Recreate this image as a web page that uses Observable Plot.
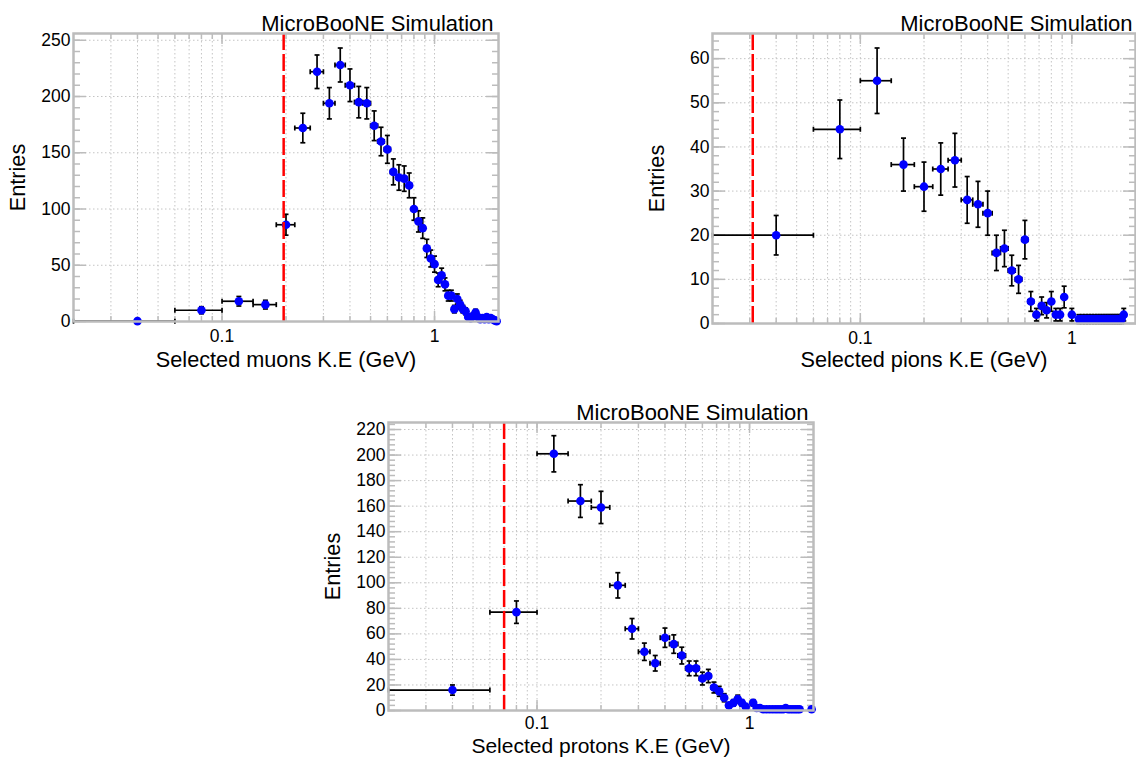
<!DOCTYPE html>
<html>
<head>
<meta charset="utf-8">
<script src="https://cdn.jsdelivr.net/npm/d3@7"></script>
<script src="https://cdn.jsdelivr.net/npm/@observablehq/plot@0.6"></script>
<style>
  html, body { margin: 0; padding: 0; background: #fff; }
  #root { position: relative; width: 1136px; height: 757px; overflow: hidden; }
  .panel { position: absolute; }
</style>
</head>
<body>
<div id="root"></div>
<script>
// ---------------- data ----------------
const binCenters = [0.04,0.08,0.12,0.16,0.2,0.24,0.28,0.32,0.36,0.4,0.44,0.48,0.52,0.56,0.6,0.64,0.68,0.72,0.76,0.8,0.84,0.88,0.92,0.96,1.0,1.04,1.08,1.12,1.16,1.2,1.24,1.28,1.32,1.36,1.4,1.44,1.48,1.52,1.56,1.6,1.64,1.68,1.72,1.76,1.8,1.84,1.88,1.92,1.96];
const binHalfWidth = 0.02;

const muonEntries = [0.3,10,18,15,86,172,222,194,228,210,195,194,174,160,153,133,128,127,121,100,89,83,65,56,51,
  37,41,33,23,23,11,20,15,11,9,4,3,5,8,4,2,3,2,4,2,3,2,1,0.3];
const pionEntries = [20,44,55,36,31,35,37,28,27,25,16,17,12,10,19,5,2,4,3,5,2,2,6,null,2,
  null,1,1,1,1,1,1,1,1,1,1,1,1,1,1,1,1,1,2,null,null,null,null,null];
const protonEntries = [16,77,201,164,159,98,64,46,37,57,52,43,33,33,25,27,18,15,10,4,6,9,6,3,null,
  6,2,2,1,1,1,1,1,1,1,1,2,1,1,1,1,1,1,null,null,null,null,null,1];

const muonCut = 0.195;
const pionCut = 0.031;
const protonCut = 0.07;

const xLabelTicks = [0.1, 1];
const xGridTicks = [0.03,0.04,0.05,0.06,0.07,0.08,0.09,0.1,0.2,0.3,0.4,0.5,0.6,0.7,0.8,0.9,1];

const muonYTicks = [0,50,100,150,200,250];
const pionYTicks = [0,10,20,30,40,50,60];
const protonYTicks = [0,20,40,60,80,100,120,140,160,180,200,220];

const titleText = "MicroBooNE Simulation";
const yTitle = "Entries";
const muonXTitle = "Selected muons K.E (GeV)";
const pionXTitle = "Selected pions K.E (GeV)";
const protonXTitle = "Selected protons K.E (GeV)";

// ---------------- drawing ----------------
const FONT = "'Liberation Sans', Arial, Helvetica, sans-serif";
const AXIS_GREY = "#bcbcbc";

// small end caps for the error bars
const capH = {draw(ctx, size) { const r = Math.sqrt(size / Math.PI); ctx.moveTo(-r, 0); ctx.lineTo(r, 0); }};
const capV = {draw(ctx, size) { const r = Math.sqrt(size / Math.PI); ctx.moveTo(0, -r); ctx.lineTo(0, r); }};

function makePanel(cfg) {
  const data = binCenters
    .map((x, i) => ({x, y: cfg.entries[i]}))
    .filter(d => d.y != null);
  data.forEach(d => { d.err = Math.sqrt(d.y); });
  const minor = d3.range(0, cfg.yMax, cfg.minorStep);
  const blank = () => "";
  const errStyle = {stroke: "#000", strokeWidth: 1.7};
  const capStyle = {stroke: "#000", strokeWidth: 1.7, fill: "none", r: 2.5};
  const plot = Plot.plot({
    width: cfg.width,
    height: cfg.height,
    marginLeft: cfg.ml, marginRight: cfg.mr, marginTop: cfg.mt, marginBottom: cfg.mb,
    style: {fontFamily: FONT, background: "transparent", overflow: "visible", color: "#000"},
    x: {type: "log", domain: [0.02, 2], axis: null},
    y: {domain: [0, cfg.yMax], axis: null},
    marks: [
      Plot.gridX(xGridTicks, {stroke: "#c4c4c4", strokeOpacity: 1, strokeWidth: 1, strokeDasharray: "1.5,2.5"}),
      Plot.gridY(cfg.yTicks, {stroke: "#c4c4c4", strokeOpacity: 1, strokeWidth: 1, strokeDasharray: "1.5,2.5"}),
      // inner ticks (ROOT style)
      Plot.axisY(minor, {anchor: "left", tickSize: 7, dx: 7, tickFormat: blank, stroke: AXIS_GREY, strokeWidth: 1.5, label: null}),
      Plot.axisY(cfg.yTicks, {anchor: "left", tickSize: 13, dx: 13, tickFormat: blank, stroke: AXIS_GREY, strokeWidth: 1.5, label: null}),
      Plot.axisY(minor, {anchor: "right", tickSize: 7, dx: -7, tickFormat: blank, stroke: AXIS_GREY, strokeWidth: 1.5, label: null}),
      Plot.axisY(cfg.yTicks, {anchor: "right", tickSize: 13, dx: -13, tickFormat: blank, stroke: AXIS_GREY, strokeWidth: 1.5, label: null}),
      Plot.axisX(xGridTicks, {anchor: "top", tickSize: 5, dy: 5, tickFormat: blank, stroke: AXIS_GREY, strokeWidth: 1.5, label: null}),
      Plot.axisX(xLabelTicks, {anchor: "top", tickSize: 10, dy: 10, tickFormat: blank, stroke: AXIS_GREY, strokeWidth: 1.5, label: null}),
      Plot.axisX(xGridTicks, {anchor: "bottom", tickSize: 5, dy: -5, tickFormat: blank, stroke: AXIS_GREY, strokeWidth: 1.5, label: null}),
      Plot.axisX(xLabelTicks, {anchor: "bottom", tickSize: 10, dy: -10, tickFormat: blank, stroke: AXIS_GREY, strokeWidth: 1.5, label: null}),
      // error bars
      Plot.link(data, {x1: d => d.x - binHalfWidth, x2: d => d.x + binHalfWidth, y1: "y", y2: "y", ...errStyle}),
      Plot.link(data, {x1: "x", x2: "x", y1: d => Math.max(0, d.y - d.err), y2: d => d.y + d.err, ...errStyle}),
      Plot.dot(data, {x: d => d.x - binHalfWidth, y: "y", symbol: capV, ...capStyle}),
      Plot.dot(data, {x: d => d.x + binHalfWidth, y: "y", symbol: capV, ...capStyle}),
      Plot.dot(data, {x: "x", y: d => Math.max(0, d.y - d.err), symbol: capH, ...capStyle}),
      Plot.dot(data, {x: "x", y: d => d.y + d.err, symbol: capH, ...capStyle}),
      // points
      Plot.dot(data, {x: "x", y: "y", r: 4.3, fill: "#0000ff", stroke: "none"}),
      // selection cut
      Plot.ruleX([cfg.cut], {stroke: "#ff0000", strokeWidth: 2.5, strokeDasharray: "17,4"}),
      Plot.frame({stroke: AXIS_GREY, strokeWidth: 2.5}),
      // tick labels
      Plot.axisY(cfg.yTicks, {anchor: "left", tickSize: 0, tickPadding: 3, fontSize: 17.5, fill: "#000", label: null}),
      Plot.axisX(xLabelTicks, {anchor: "bottom", tickSize: 0, tickPadding: cfg.tickPad, fontSize: 17.5, fill: "#000",
        tickFormat: d => String(d), label: null}),
      // titles
      Plot.text([cfg.xTitle], {frameAnchor: "bottom", textAnchor: "middle", lineAnchor: "middle",
        dy: cfg.xTitleDy, fontSize: cfg.xTitleSize, fill: "#000"}),
      Plot.text([yTitle], {frameAnchor: "left", textAnchor: "middle", lineAnchor: "middle",
        dx: -55, rotate: -90, fontSize: 21.7, fill: "#000"}),
      Plot.text([titleText], {frameAnchor: "top-right", textAnchor: "end", lineAnchor: "middle",
        dx: cfg.titleDx, dy: -10, fontSize: 22, fill: "#000"})
    ]
  });
  const wrap = document.createElement("div");
  wrap.className = "panel";
  wrap.style.left = cfg.left + "px";
  wrap.style.top = cfg.top + "px";
  wrap.appendChild(plot);
  document.getElementById("root").appendChild(wrap);
}

makePanel({entries: muonEntries, cut: muonCut, xTitle: muonXTitle, yTicks: muonYTicks, yMax: 256, minorStep: 10,
  left: 0, top: 0, width: 520, height: 380, ml: 73, mr: 22, mt: 33, mb: 59,
  xTitleDy: 38.5, xTitleSize: 21.7, tickPad: 8, titleDx: -5});
makePanel({entries: pionEntries, cut: pionCut, xTitle: pionXTitle, yTicks: pionYTicks, yMax: 65.7, minorStep: 2,
  left: 640, top: 0, width: 496, height: 380, ml: 72, mr: 1, mt: 33, mb: 57,
  xTitleDy: 37, xTitleSize: 21.7, tickPad: 8, titleDx: -3});
makePanel({entries: protonEntries, cut: protonCut, xTitle: protonXTitle, yTicks: protonYTicks, yMax: 225.5, minorStep: 4,
  left: 320, top: 390, width: 500, height: 367, ml: 68, mr: 7, mt: 32, mb: 47,
  xTitleDy: 35.5, xTitleSize: 21, tickPad: 6, titleDx: -5});
</script>
</body>
</html>
